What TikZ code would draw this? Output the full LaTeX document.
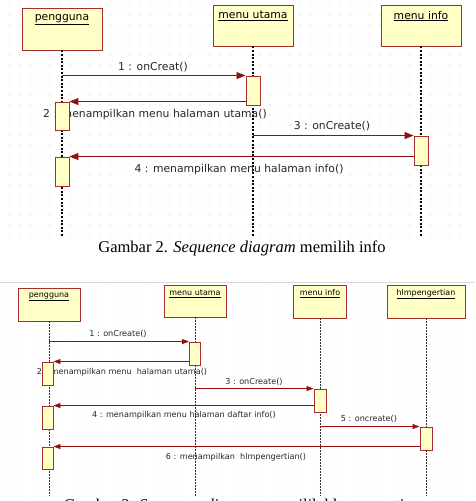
\documentclass[tikz,border=0pt]{standalone}
\usepackage{fontspec}
\setmainfont{Liberation Serif}
\newfontfamily\seqfont{DejaVu Sans}
\usetikzlibrary{arrows.meta}

\definecolor{objfill}{RGB}{255,255,198}
\definecolor{objdraw}{RGB}{165,45,45}
\definecolor{msgcol}{RGB}{150,15,15}
\definecolor{dotcol}{RGB}{200,200,200}

\begin{document}
\begin{tikzpicture}[x=1pt,y=1pt,yscale=-1,
	objbox/.style={draw=objdraw,fill=objfill,line width=0.9pt,inner sep=0pt},
	actbox/.style={draw=objdraw,fill=objfill,line width=0.9pt,inner sep=0pt},
	objtext/.style={inner sep=0pt,font=\seqfont\fontsize{10.8}{12}\selectfont},
	objtextsm/.style={inner sep=0pt,font=\seqfont\fontsize{8}{9}\selectfont},
	msgtext/.style={inner sep=0pt,text=black!85,font=\seqfont\fontsize{10.8}{12}\selectfont},
	msgtextsm/.style={inner sep=0pt,text=black!85,font=\seqfont\fontsize{8.1}{9}\selectfont},
	msg/.style={draw=msgcol,line width=0.8pt,-{Triangle[length=9pt,width=7pt]}},
	msgsm/.style={draw=msgcol,line width=0.7pt,-{Triangle[length=7pt,width=5pt]}},
	lifeline/.style={line width=1.1pt,dash pattern=on 2pt off 1.6pt},
	lifelinesm/.style={line width=0.9pt,black!80,dash pattern=on 1.6pt off 1.4pt},
	caption/.style={inner sep=0pt,font=\fontsize{16.5}{18}\selectfont}]
	\useasboundingbox (0,0) rectangle (475,501);
	\clip (0,0) rectangle (475,501);
	
	%%%% Gambar 2
	% grid
	\foreach \gx in {10,20,...,460}{\foreach \gy in {5,15,...,235}{\fill[dotcol] (\gx,\gy) circle (0.55);}}
	
	% objects
	\node[objbox,minimum width=80pt,minimum height=42pt] (pengguna) at (62,29) {};
	\node[objbox,minimum width=80pt,minimum height=41pt] (utama) at (253,25.5) {};
	\node[objbox,minimum width=80pt,minimum height=41pt] (info) at (421,25.5) {};
	\node[objtext] (pengguna text) at (62,20) {\underline{pengguna}};
	\node[objtext] (utama text) at (253,16) {\underline{menu utama}};
	\node[objtext] (info text) at (421,16) {\underline{menu info}};
	\coordinate (end1) at (0,237);
	
	% lifelines
	\draw[lifeline] (pengguna.south) -- (pengguna.south |- end1);
	\draw[lifeline] (utama.south) -- (utama.south |- end1);
	\draw[lifeline] (info.south) -- (info.south |- end1);
	
	% message texts
	\node[msgtext] (m1 text) at (153,67) {1 : onCreat()};
	\node[msgtext] (m2 text) at (155,114.5) {2 : menampilkan menu halaman utama()};
	\node[msgtext] (m3 text) at (332,126) {3 : onCreate()};
	\node[msgtext] (m4 text) at (239,169.5) {4 : menampilkan menu halaman info()};
	
	% activations
	\node[actbox,minimum width=14pt,minimum height=29pt] (utama act) at (253,90.5) {};
	\node[actbox,minimum width=14pt,minimum height=28pt] (pengguna act1) at (62,116) {};
	\node[actbox,minimum width=14pt,minimum height=29pt] (info act) at (421,150.5) {};
	\node[actbox,minimum width=14pt,minimum height=29pt] (pengguna act2) at (62,171.5) {};
	
	% messages
	\draw[msg] (pengguna.south |- utama act.north) -- (utama act.north west);
	\draw[msg] (utama act.west |- pengguna act1.north) -- (pengguna act1.north east);
	\draw[msg] (utama.south |- info act.north) -- (info act.north west);
	\draw[msg] (info act.west |- pengguna act2.north) -- (pengguna act2.north east);
	
	\node[caption,anchor=base] (caption2) at (242,252) {Gambar 2. \textit{Sequence diagram} memilih info};
	
	%%%% Gambar 3
	\draw[black!15,line width=0.8pt] (0,282) -- (475,282);
	% grid
	\foreach \gx in {3,13,...,473}{\foreach \gy in {286,296,...,496}{\fill[dotcol] (\gx,\gy) circle (0.5);}}
	
	% objects
	\node[objbox,minimum width=62pt,minimum height=33pt] (pengguna2) at (49,304.5) {};
	\node[objbox,minimum width=62pt,minimum height=32pt] (utama2) at (195,301) {};
	\node[objbox,minimum width=53pt,minimum height=33pt] (info2) at (320,301.5) {};
	\node[objbox,minimum width=78pt,minimum height=33pt] (hlm) at (426,301.5) {};
	\node[objtextsm] (pengguna2 text) at (49,297) {\underline{pengguna}};
	\node[objtextsm] (utama2 text) at (195,294) {\underline{menu utama}};
	\node[objtextsm] (info2 text) at (320,294) {\underline{menu info}};
	\node[objtextsm] (hlm text) at (426,294) {\underline{hlmpengertian}};
	\coordinate (end2) at (0,496);
	
	% lifelines
	\draw[lifelinesm] (pengguna2.south) -- (pengguna2.south |- end2);
	\draw[lifelinesm] (utama2.south) -- (utama2.south |- end2);
	\draw[lifelinesm] (info2.south) -- (info2.south |- end2);
	\draw[lifelinesm] (hlm.south) -- (hlm.south |- end2);
	
	% message texts
	\node[msgtextsm] (n1 text) at (118,334) {1 : onCreate()};
	\node[msgtextsm] (n2 text) at (122,372) {2 : menampilkan menu\ \ halaman utama()};
	\node[msgtextsm] (n3 text) at (254,382) {3 : onCreate()};
	\node[msgtextsm] (n4 text) at (184,415) {4 : menampilkan menu halaman daftar info()};
	\node[msgtextsm] (n5 text) at (369,419) {5 : oncreate()};
	\node[msgtextsm] (n6 text) at (236,457) {6 : menampilkan\ \ hlmpengertian()};
	
	% activations
	\node[actbox,minimum width=11pt,minimum height=23pt] (utama2 act) at (195,353.5) {};
	\node[actbox,minimum width=11pt,minimum height=23pt] (pengguna2 act1) at (47.5,373.5) {};
	\node[actbox,minimum width=12pt,minimum height=23pt] (info2 act) at (320,400.5) {};
	\node[actbox,minimum width=11pt,minimum height=23pt] (pengguna2 act2) at (47.5,417.5) {};
	\node[actbox,minimum width=12pt,minimum height=23pt] (hlm act) at (426,438.5) {};
	\node[actbox,minimum width=11pt,minimum height=22pt] (pengguna2 act3) at (47.5,458) {};
	
	% messages
	\draw[msgsm] (pengguna2.south |- utama2 act.north) -- (utama2 act.north west);
	\draw[msgsm] (utama2 act.west |- pengguna2 act1.north) -- (pengguna2 act1.north east);
	\draw[msgsm] (utama2.south |- info2 act.north) -- (info2 act.north west);
	\draw[msgsm] (info2 act.west |- pengguna2 act2.north) -- (pengguna2 act2.north east);
	\draw[msgsm] (info2.south |- hlm act.north) -- (hlm act.north west);
	\draw[msgsm] (hlm act.west |- pengguna2 act3.north) -- (pengguna2 act3.north east);
	
	\node[caption,anchor=base] (caption3) at (242,510) {Gambar 3. \textit{Sequence diagram} memilih hlmpengertian};
\end{tikzpicture}
\end{document}
